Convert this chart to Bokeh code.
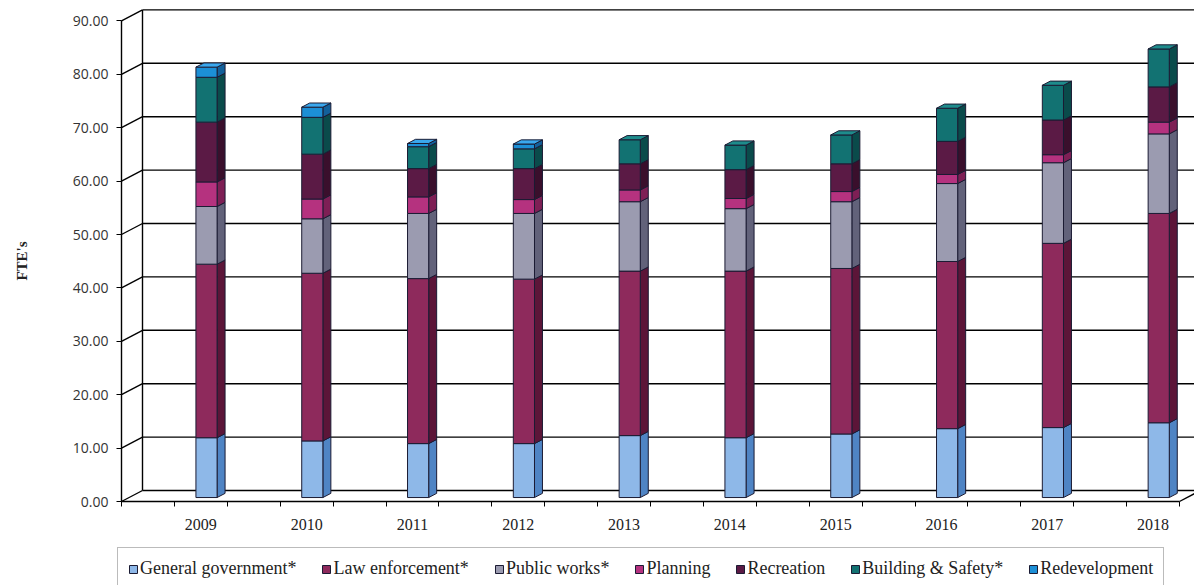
from bokeh.plotting import figure
from bokeh.models import (Range1d, FixedTicker, NumeralTickFormatter,
                          ColumnDataSource, Legend, LegendItem)
from bokeh.embed import file_html
from bokeh.resources import INLINE

# ---- data: FTEs by department, stacked bottom to top ----
years = ["2009", "2010", "2011", "2012", "2013", "2014", "2015", "2016", "2017", "2018"]
general_government = [11.2, 10.6, 10.1, 10.1, 11.6, 11.2, 11.9, 12.9, 13.1, 14.0]
law_enforcement = [32.5, 31.4, 30.9, 30.8, 30.8, 31.2, 31.0, 31.3, 34.5, 39.2]
public_works = [10.8, 10.2, 12.2, 12.3, 13.0, 11.7, 12.5, 14.6, 15.1, 14.9]
planning = [4.6, 3.7, 3.1, 2.6, 2.2, 1.9, 1.9, 1.7, 1.5, 2.2]
recreation = [11.2, 8.4, 5.3, 5.8, 4.9, 5.4, 5.2, 6.2, 6.5, 6.6]
building_safety = [8.4, 6.9, 4.1, 3.7, 4.5, 4.6, 5.4, 6.2, 6.5, 7.1]
redevelopment = [1.9, 1.9, 0.6, 0.9, 0.0, 0.0, 0.0, 0.0, 0.0, 0.0]

series_names = ["General government*", "Law enforcement*", "Public works*", "Planning",
                "Recreation", "Building & Safety*", "Redevelopment"]
series_values = [general_government, law_enforcement, public_works, planning,
                 recreation, building_safety, redevelopment]
y_ticks = [0, 10, 20, 30, 40, 50, 60, 70, 80, 90]

front_colors = ["#8EB8E8", "#8E2A5C", "#9B9BB0", "#B5327F", "#5B1A45", "#127272", "#1C8FD6"]
side_colors = ["#4F84C4", "#5C1538", "#62627A", "#7E1F55", "#3A0F2C", "#0A4B4B", "#12609A"]
top_colors = ["#B5D3F5", "#A8406F", "#B8B8CA", "#C9559A", "#7A2F62", "#1E8C8C", "#3AA8EE"]
edge_color = "#1B1B33"

# ---- 3-D projection settings (category units on x, FTE units on y) ----
PX_PER_CAT = 105.8
PX_PER_UNIT = 5.34
X_LEFT, X_RIGHT = -0.75, 9.25          # front corners of the floor
DDX = 21 / PX_PER_CAT                   # full depth of the box, x shift
DDY = 11 / PX_PER_UNIT                  # full depth of the box, y shift
F0, F1 = 0.36, 0.74                     # bar front / back depth fractions
BAR_OFF, BAR_W = -0.118, 0.2

W, H = 1194, 585
AXIS_PX_X, AXIS_PX_Y = 121, 501         # where the front corner sits on the canvas
x_start = X_LEFT - AXIS_PX_X / PX_PER_CAT
x_end = x_start + W / PX_PER_CAT
y_start = -(H - AXIS_PX_Y) / PX_PER_UNIT
y_end = y_start + H / PX_PER_UNIT

p = figure(width=W, height=H, x_range=Range1d(x_start, x_end),
           y_range=Range1d(y_start, y_end),
           output_backend="svg", toolbar_location=None,
           min_border_left=0, min_border_right=0, min_border_top=0,
           min_border_bottom=0)
p.xgrid.visible = False
p.ygrid.visible = False
p.outline_line_color = None
p.background_fill_color = "white"
p.border_fill_color = "white"

# ---- walls and floor ----
back_left = X_LEFT + DDX
p.segment(x0=[back_left] * len(y_ticks), y0=[v + DDY for v in y_ticks],
          x1=[x_end + 1] * len(y_ticks), y1=[v + DDY for v in y_ticks],
          line_color="black", line_width=1.4)
p.segment(x0=[X_LEFT] * len(y_ticks), y0=y_ticks,
          x1=[back_left] * len(y_ticks), y1=[v + DDY for v in y_ticks],
          line_color="black", line_width=1.4)
p.segment(x0=[back_left, X_RIGHT], y0=[DDY, 0], x1=[back_left, X_RIGHT + DDX],
          y1=[y_ticks[-1] + DDY, DDY], line_color="black", line_width=1.4)

# ---- stacked 3-D bars ----
n = len(years)
bottoms = [0.0] * n
tops_color = [None] * n
tops_level = [0.0] * n
legend_items = []
for k, (name, vals) in enumerate(zip(series_names, series_values)):
    fl, fr, fb, ft = [], [], [], []
    sx, sy = [], []
    for i in range(n):
        v = vals[i]
        if v <= 0:
            continue
        b = bottoms[i]
        t = b + v
        xl = i + BAR_OFF
        xr = xl + BAR_W
        fl.append(xl + F0 * DDX)
        fr.append(xr + F0 * DDX)
        fb.append(b + F0 * DDY)
        ft.append(t + F0 * DDY)
        sx.append([xr + F0 * DDX, xr + F1 * DDX, xr + F1 * DDX, xr + F0 * DDX])
        sy.append([b + F0 * DDY, b + F1 * DDY, t + F1 * DDY, t + F0 * DDY])
        bottoms[i] = t
        tops_color[i] = top_colors[k]
        tops_level[i] = t
    p.patches(xs=sx, ys=sy, fill_color=side_colors[k], line_color=edge_color, line_width=1)
    src = ColumnDataSource(dict(left=fl, right=fr, bottom=fb, top=ft))
    r = p.quad(left="left", right="right", bottom="bottom", top="top", source=src,
               fill_color=front_colors[k], line_color=edge_color, line_width=1)
    legend_items.append(LegendItem(label=name, renderers=[r]))

tx, ty = [], []
for i in range(n):
    t = tops_level[i]
    xl = i + BAR_OFF
    xr = xl + BAR_W
    tx.append([xl + F0 * DDX, xr + F0 * DDX, xr + F1 * DDX, xl + F1 * DDX])
    ty.append([t + F0 * DDY, t + F0 * DDY, t + F1 * DDY, t + F1 * DDY])
p.patches(xs=tx, ys=ty, fill_color=tops_color, line_color=edge_color, line_width=1)

# ---- axes, pinned to the front corner of the box ----
p.yaxis.fixed_location = X_LEFT
p.yaxis.ticker = FixedTicker(ticks=y_ticks)
p.yaxis.bounds = (0, 90)
p.yaxis.formatter = NumeralTickFormatter(format="0.00")
p.yaxis.axis_line_color = "black"
p.yaxis.axis_line_width = 1.4
p.yaxis.major_tick_line_color = "black"
p.yaxis.major_tick_line_width = 1.2
p.yaxis.major_tick_out = 5
p.yaxis.major_tick_in = 0
p.yaxis.minor_tick_line_color = None
p.yaxis.major_label_standoff = 8
p.yaxis.major_label_text_font = "Open Sans"
p.yaxis.major_label_text_font_size = "14px"
p.yaxis.major_label_text_color = "#333333"
p.yaxis.axis_label = "FTE's"
p.yaxis.axis_label_text_font = "Liberation Serif"
p.yaxis.axis_label_text_font_style = "bold"
p.yaxis.axis_label_text_font_size = "15px"
p.yaxis.axis_label_text_color = "#222222"
p.yaxis.axis_label_standoff = 40

p.xaxis.fixed_location = 0
p.xaxis.ticker = FixedTicker(ticks=list(range(n)),
                             minor_ticks=[X_LEFT + 0.5 * j for j in range(2 * n + 1)])
p.xaxis.major_label_overrides = {i: y for i, y in enumerate(years)}
p.xaxis.bounds = (X_LEFT, X_RIGHT)
p.xaxis.axis_line_color = "black"
p.xaxis.axis_line_width = 1.4
p.xaxis.major_tick_line_color = None
p.xaxis.major_tick_out = 0
p.xaxis.major_tick_in = 0
p.xaxis.minor_tick_line_color = "black"
p.xaxis.minor_tick_out = 5
p.xaxis.minor_tick_in = 0
p.xaxis.major_label_standoff = 12
p.xaxis.major_label_text_font = "Liberation Serif"
p.xaxis.major_label_text_font_size = "16px"
p.xaxis.major_label_text_color = "#222222"

# ---- legend strip along the bottom edge ----
legend = Legend(items=legend_items, orientation="horizontal", location=(117, -5),
                label_text_font="Liberation Serif", label_text_font_size="18px",
                label_text_color="#222222", glyph_width=10, glyph_height=10,
                label_standoff=2, spacing=25, padding=10, margin=0, label_height=20,
                border_line_color="#777777", border_line_width=1,
                background_fill_color="white", background_fill_alpha=1.0)
p.add_layout(legend)

open("out.html", "w").write(file_html(p, INLINE))
